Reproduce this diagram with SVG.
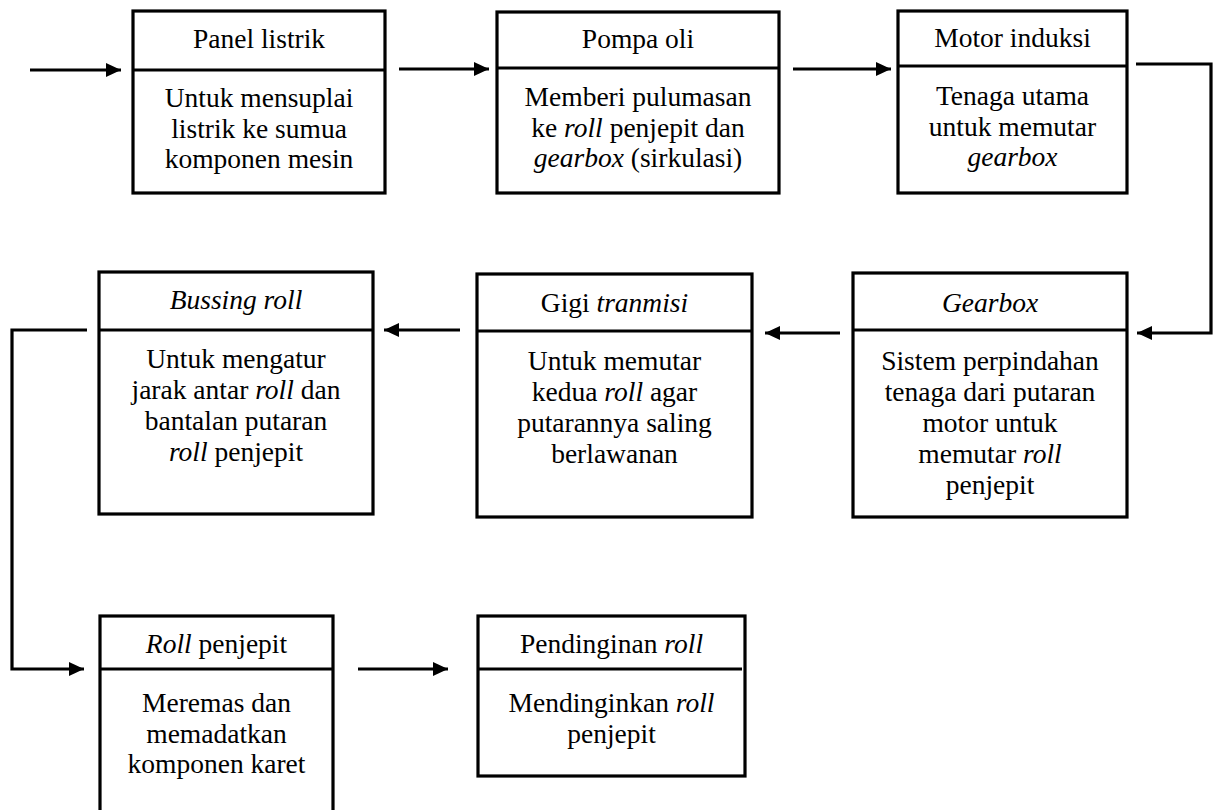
<svg xmlns="http://www.w3.org/2000/svg" width="1213" height="810" viewBox="0 0 1213 810">
<defs>
<style>
.box{fill:#fff;stroke:#000;stroke-width:3.2}
.div{stroke:#000;stroke-width:3.2}
.con{fill:none;stroke:#000;stroke-width:3.2}
text{font-family:"Liberation Serif","Times New Roman",serif;font-size:27.5px;fill:#000;text-anchor:middle}
.i{font-style:italic}
</style>
<marker id="ah" markerUnits="userSpaceOnUse" markerWidth="16" markerHeight="16" refX="15" refY="7" orient="auto">
<path d="M0,0 L15,7 L0,14 Z" fill="#000"/>
</marker>
</defs>
<rect width="1213" height="810" fill="#fff"/>
<g id="connectors">
<line class="con" x1="30" y1="70" x2="121" y2="70" marker-end="url(#ah)"/>
<line class="con" x1="399" y1="69" x2="489" y2="69" marker-end="url(#ah)"/>
<line class="con" x1="793" y1="69" x2="891" y2="69" marker-end="url(#ah)"/>
<path class="con" d="M1136,64 H1211 V333 H1137" marker-end="url(#ah)"/>
<line class="con" x1="840" y1="333" x2="765" y2="333" marker-end="url(#ah)"/>
<line class="con" x1="460" y1="330" x2="384" y2="330" marker-end="url(#ah)"/>
<path class="con" d="M87,330 H12 V669 H84" marker-end="url(#ah)"/>
<line class="con" x1="358" y1="669" x2="448" y2="669" marker-end="url(#ah)"/>
</g>
<g id="panel-listrik">
<rect class="box" x="133" y="11" width="252" height="182"/>
<line class="div" x1="133" y1="70" x2="385" y2="70"/>
<text x="259" y="48">Panel listrik</text>
<text x="259" y="107">Untuk mensuplai</text>
<text x="259" y="138">listrik ke sumua</text>
<text x="259" y="168">komponen mesin</text>
</g>
<g id="pompa-oli">
<rect class="box" x="497" y="12" width="282" height="181"/>
<line class="div" x1="497" y1="68" x2="779" y2="68"/>
<text x="638" y="48">Pompa oli</text>
<text x="638" y="106">Memberi pulumasan</text>
<text x="638" y="137">ke <tspan class="i">roll</tspan> penjepit dan</text>
<text x="638" y="167"><tspan class="i">gearbox</tspan> (sirkulasi)</text>
</g>
<g id="motor-induksi">
<rect class="box" x="898" y="11" width="229" height="182"/>
<line class="div" x1="898" y1="66" x2="1127" y2="66"/>
<text x="1012.5" y="47">Motor induksi</text>
<text x="1012.5" y="105">Tenaga utama</text>
<text x="1012.5" y="136">untuk memutar</text>
<text x="1012.5" y="166" class="i">gearbox</text>
</g>
<g id="gearbox">
<rect class="box" x="853" y="273" width="274" height="244"/>
<line class="div" x1="853" y1="330" x2="1127" y2="330"/>
<text x="990" y="312" class="i">Gearbox</text>
<text x="990" y="370">Sistem perpindahan</text>
<text x="990" y="401">tenaga dari putaran</text>
<text x="990" y="432">motor untuk</text>
<text x="990" y="463">memutar <tspan class="i">roll</tspan></text>
<text x="990" y="494">penjepit</text>
</g>
<g id="gigi-tranmisi">
<rect class="box" x="477" y="274" width="275" height="243"/>
<line class="div" x1="477" y1="331" x2="752" y2="331"/>
<text x="614.5" y="312">Gigi <tspan class="i">tranmisi</tspan></text>
<text x="614.5" y="370">Untuk memutar</text>
<text x="614.5" y="401">kedua <tspan class="i">roll</tspan> agar</text>
<text x="614.5" y="432">putarannya saling</text>
<text x="614.5" y="463">berlawanan</text>
</g>
<g id="bussing-roll">
<rect class="box" x="99" y="272" width="274" height="242"/>
<line class="div" x1="99" y1="330" x2="373" y2="330"/>
<text x="236" y="309" class="i">Bussing roll</text>
<text x="236" y="368">Untuk mengatur</text>
<text x="236" y="399">jarak antar <tspan class="i">roll</tspan> dan</text>
<text x="236" y="430">bantalan putaran</text>
<text x="236" y="461"><tspan class="i">roll</tspan> penjepit</text>
</g>
<g id="roll-penjepit">
<rect class="box" x="100" y="616" width="233" height="200"/>
<line class="div" x1="100" y1="669" x2="333" y2="669"/>
<text x="216.5" y="653"><tspan class="i">Roll</tspan> penjepit</text>
<text x="216.5" y="712">Meremas dan</text>
<text x="216.5" y="743">memadatkan</text>
<text x="216.5" y="773">komponen karet</text>
</g>
<g id="pendinginan-roll">
<rect class="box" x="478" y="616" width="267" height="160"/>
<line class="div" x1="478" y1="669" x2="742" y2="669"/>
<text x="611.5" y="653">Pendinginan <tspan class="i">roll</tspan></text>
<text x="611.5" y="712">Mendinginkan <tspan class="i">roll</tspan></text>
<text x="611.5" y="743">penjepit</text>
</g>
</svg>
